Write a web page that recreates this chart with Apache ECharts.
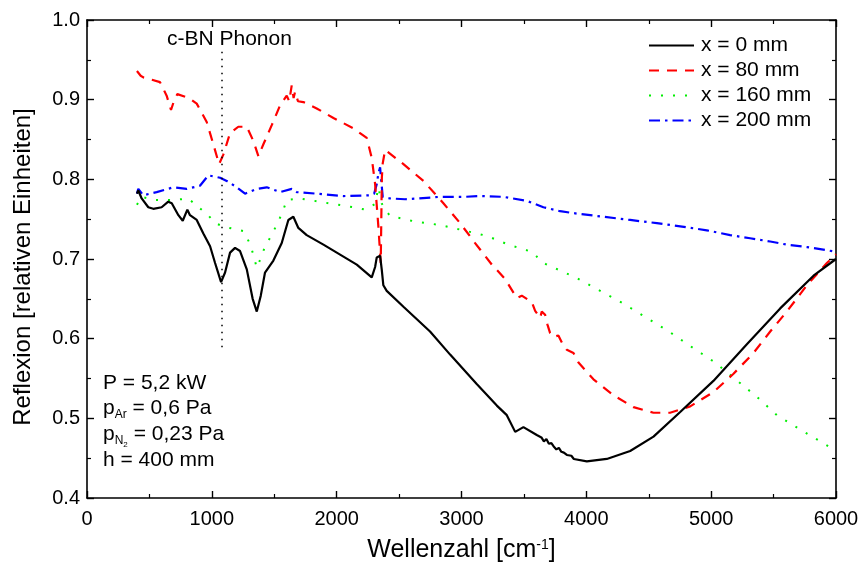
<!DOCTYPE html>
<html>
<head>
<meta charset="utf-8">
<script src="https://cdn.jsdelivr.net/npm/echarts@6/dist/echarts.min.js"></script>
<style>
  html, body { margin: 0; padding: 0; background: #fff; }
  #chart { width: 863px; height: 568px; }
</style>
</head>
<body>
<div id="chart"></div>
<script>
// Reflexionsspektren bei verschiedenen Positionen x (Wellenzahl in cm^-1)
const wave0 = [400, 411, 438, 491, 531, 598, 651, 679, 732, 767, 804, 825, 879, 932, 986, 1026, 1074, 1106, 1146, 1186, 1226, 1280, 1327, 1360, 1392, 1426, 1493, 1560, 1613, 1653, 1693, 1760, 1894, 2161, 2281, 2308, 2321, 2348, 2361, 2374, 2401, 2535, 2748, 2909, 3122, 3283, 3363, 3430, 3496, 3603, 3640, 3660, 3680, 3700, 3720, 3737, 3760, 3780, 3800, 3820, 3844, 3860, 3880, 3900, 4004, 4164, 4351, 4538, 4752, 5018, 5286, 5553, 5820, 6000];
const refl0 = [0.782, 0.786, 0.776, 0.765, 0.763, 0.765, 0.772, 0.770, 0.755, 0.748, 0.762, 0.755, 0.749, 0.732, 0.716, 0.695, 0.671, 0.683, 0.708, 0.714, 0.710, 0.687, 0.650, 0.634, 0.654, 0.683, 0.698, 0.720, 0.749, 0.753, 0.739, 0.730, 0.718, 0.693, 0.677, 0.690, 0.702, 0.704, 0.687, 0.667, 0.660, 0.640, 0.609, 0.580, 0.543, 0.516, 0.504, 0.483, 0.489, 0.479, 0.476, 0.471, 0.474, 0.468, 0.469, 0.465, 0.461, 0.463, 0.458, 0.457, 0.454, 0.452, 0.453, 0.449, 0.446, 0.449, 0.459, 0.477, 0.508, 0.547, 0.593, 0.638, 0.679, 0.700];

const wave80 = [400, 430, 451, 520, 585, 638, 673, 700, 724, 780, 825, 879, 959, 1012, 1058, 1092, 1146, 1212, 1280, 1333, 1373, 1413, 1480, 1547, 1600, 1620, 1640, 1655, 1667, 1690, 1733, 1840, 1974, 2134, 2241, 2281, 2308, 2334, 2353, 2362, 2369, 2388, 2535, 2695, 2855, 2989, 3109, 3243, 3349, 3443, 3483, 3563, 3590, 3630, 3643, 3670, 3688, 3710, 3736, 3776, 3811, 3844, 3897, 3937, 4057, 4217, 4378, 4538, 4671, 4832, 5018, 5179, 5339, 5473, 5606, 5767, 5927, 6000];
const refl80 = [0.936, 0.930, 0.928, 0.925, 0.922, 0.905, 0.887, 0.900, 0.907, 0.904, 0.901, 0.895, 0.872, 0.844, 0.819, 0.831, 0.858, 0.866, 0.866, 0.848, 0.829, 0.844, 0.868, 0.893, 0.905, 0.898, 0.918, 0.902, 0.910, 0.898, 0.897, 0.889, 0.877, 0.864, 0.852, 0.827, 0.794, 0.741, 0.695, 0.802, 0.820, 0.837, 0.819, 0.798, 0.770, 0.745, 0.720, 0.693, 0.675, 0.651, 0.654, 0.646, 0.635, 0.626, 0.634, 0.630, 0.618, 0.607, 0.602, 0.604, 0.593, 0.586, 0.582, 0.570, 0.549, 0.529, 0.514, 0.507, 0.507, 0.515, 0.533, 0.556, 0.582, 0.609, 0.634, 0.667, 0.695, 0.706];

const wave160 = [400, 438, 545, 692, 812, 892, 959, 1026, 1106, 1172, 1253, 1306, 1333, 1360, 1400, 1426, 1480, 1565, 1600, 1707, 1934, 2134, 2228, 2308, 2334, 2361, 2374, 2428, 2628, 2815, 3016, 3203, 3376, 3563, 3656, 3924, 4111, 4298, 4485, 4671, 4858, 5032, 5179, 5366, 5526, 5713, 5927, 6000];
const refl160 = [0.768, 0.778, 0.774, 0.774, 0.776, 0.765, 0.757, 0.745, 0.740, 0.738, 0.735, 0.719, 0.705, 0.689, 0.704, 0.716, 0.730, 0.758, 0.774, 0.776, 0.770, 0.765, 0.762, 0.769, 0.790, 0.770, 0.765, 0.754, 0.747, 0.743, 0.736, 0.729, 0.718, 0.709, 0.695, 0.676, 0.660, 0.644, 0.626, 0.608, 0.588, 0.570, 0.551, 0.527, 0.504, 0.486, 0.466, 0.459];

const wave200 = [400, 411, 451, 558, 692, 799, 905, 972, 1066, 1119, 1200, 1266, 1360, 1440, 1547, 1640, 1680, 1840, 2054, 2268, 2300, 2321, 2335, 2348, 2356, 2369, 2428, 2548, 2829, 3016, 3149, 3336, 3523, 3656, 3790, 3924, 4137, 4351, 4565, 4752, 4965, 5152, 5312, 5473, 5606, 5767, 5927, 6000];
const refl200 = [0.782, 0.788, 0.780, 0.784, 0.790, 0.788, 0.792, 0.805, 0.802, 0.798, 0.790, 0.782, 0.788, 0.790, 0.784, 0.788, 0.784, 0.782, 0.779, 0.780, 0.782, 0.794, 0.808, 0.815, 0.800, 0.778, 0.776, 0.775, 0.778, 0.778, 0.779, 0.778, 0.773, 0.765, 0.760, 0.757, 0.753, 0.749, 0.745, 0.741, 0.736, 0.730, 0.726, 0.722, 0.718, 0.715, 0.711, 0.709];

const seriesNames = ['x = 0 mm', 'x = 80 mm', 'x = 160 mm', 'x = 200 mm'];
const phononWave = 1080;          // c-BN Phonon
const phononRange = [0.585, 0.96];
const xTicks = { min: 0, max: 6000, step: 1000 };
const yTicks = { min: 0.4, max: 1.0, step: 0.1 };

const pairs = (xs, ys) => xs.map((x, i) => [x, ys[i]]);

const FONT = 'Liberation Sans, Arial, sans-serif';

const chart = echarts.init(document.getElementById('chart'), null, { renderer: 'canvas' });

const frameAxis = {
  axisLine: { show: true, onZero: false, lineStyle: { color: '#000', width: 1.6 } },
  axisTick: { show: true, inside: true, length: 7, lineStyle: { color: '#000', width: 1.4 } },
  minorTick: { show: true, splitNumber: 2, length: 4, lineStyle: { color: '#000', width: 1.2 } },
  splitLine: { show: false },
  minorSplitLine: { show: false }
};

const option = {
  backgroundColor: '#fff',
  animation: false,
  grid: { left: 87, right: 27, top: 20, bottom: 61, containLabel: false },
  legend: {
    orient: 'vertical',
    left: 648,
    top: 35,
    padding: 0,
    itemWidth: 45,
    itemHeight: 14,
    itemGap: 4,
    data: seriesNames,
    // only the line sample is shown, no marker
    itemStyle: { opacity: 0, color: 'rgba(0,0,0,0)', borderWidth: 0 },
    textStyle: { fontFamily: FONT, fontSize: 21, color: '#000', padding: [0, 0, 0, 2] }
  },
  xAxis: [
    Object.assign({
      type: 'value', position: 'bottom',
      min: xTicks.min, max: xTicks.max, interval: xTicks.step,
      axisLabel: { color: '#000', fontFamily: FONT, fontSize: 20, margin: 11, formatter: v => String(v) },
      name: 'Wellenzahl [cm{sup|-1}]',
      nameLocation: 'middle',
      nameGap: 40,
      nameTextStyle: {
        color: '#000', fontFamily: FONT, fontSize: 25,
        rich: { sup: { fontFamily: FONT, fontSize: 14, color: '#000', verticalAlign: 'top', padding: [0, 0, 10, 0] } }
      }
    }, frameAxis),
    Object.assign({
      type: 'value', position: 'top',
      min: xTicks.min, max: xTicks.max, interval: xTicks.step,
      axisLabel: { show: false }
    }, frameAxis)
  ],
  yAxis: [
    Object.assign({
      type: 'value', position: 'left',
      min: yTicks.min, max: yTicks.max, interval: yTicks.step,
      axisLabel: { color: '#000', fontFamily: FONT, fontSize: 20, margin: 7, formatter: v => v.toFixed(1) },
      name: 'Reflexion [relativen Einheiten]',
      nameLocation: 'middle',
      nameGap: 52,
      nameTextStyle: { color: '#000', fontFamily: FONT, fontSize: 24, padding: [0, 16, 0, 0] }
    }, frameAxis),
    Object.assign({
      type: 'value', position: 'right',
      min: yTicks.min, max: yTicks.max, interval: yTicks.step,
      axisLabel: { show: false }
    }, frameAxis)
  ],
  series: [
    {
      name: seriesNames[0], type: 'line', symbol: 'none', z: 5,
      data: pairs(wave0, refl0),
      lineStyle: { color: '#000', width: 2.2, type: 'solid' },
      itemStyle: { color: '#000' },
      markLine: {
        silent: true, symbol: 'none',
        lineStyle: { color: '#000', width: 1.5, type: [1.5, 5.5] },
        label: { show: false },
        data: [[{ coord: [phononWave, phononRange[1]] }, { coord: [phononWave, phononRange[0]] }]]
      }
    },
    {
      name: seriesNames[1], type: 'line', symbol: 'none', z: 4,
      data: pairs(wave80, refl80),
      lineStyle: { color: '#ff0000', width: 2.2, type: [10, 8] },
      itemStyle: { color: '#ff0000' }
    },
    {
      name: seriesNames[2], type: 'line', symbol: 'none', z: 3,
      data: pairs(wave160, refl160),
      lineStyle: { color: '#00ee00', width: 2, type: [2, 10] },
      itemStyle: { color: '#00ee00' }
    },
    {
      name: seriesNames[3], type: 'line', symbol: 'none', z: 3,
      data: pairs(wave200, refl200),
      lineStyle: { color: '#0000ff', width: 2.2, type: [11, 5, 2.5, 5] },
      itemStyle: { color: '#0000ff' }
    }
  ],
  graphic: [
    { type: 'text', left: 167, top: 29, style: { text: 'c-BN Phonon', fontFamily: FONT, fontSize: 21, fill: '#000' } },
    { type: 'text', left: 103, top: 373, style: { text: 'P = 5,2 kW', fontFamily: FONT, fontSize: 21, fill: '#000' } },
    { type: 'text', left: 103, top: 398, style: {
      text: 'p{s|Ar} = 0,6 Pa', fontFamily: FONT, fontSize: 21, fill: '#000',
      rich: { s: { fontFamily: FONT, fontSize: 12, fill: '#000', padding: [13, 0, 0, 0] } }
    } },
    { type: 'text', left: 103, top: 424, style: {
      text: 'p{s|N}{ss|2} = 0,23 Pa', fontFamily: FONT, fontSize: 21, fill: '#000',
      rich: {
        s: { fontFamily: FONT, fontSize: 12, fill: '#000', padding: [13, 0, 0, 0] },
        ss: { fontFamily: FONT, fontSize: 8, fill: '#000', padding: [21, 0, 0, 0] }
      }
    } },
    { type: 'text', left: 103, top: 450, style: { text: 'h = 400 mm', fontFamily: FONT, fontSize: 21, fill: '#000' } }
  ]
};

chart.setOption(option);
</script>
</body>
</html>
